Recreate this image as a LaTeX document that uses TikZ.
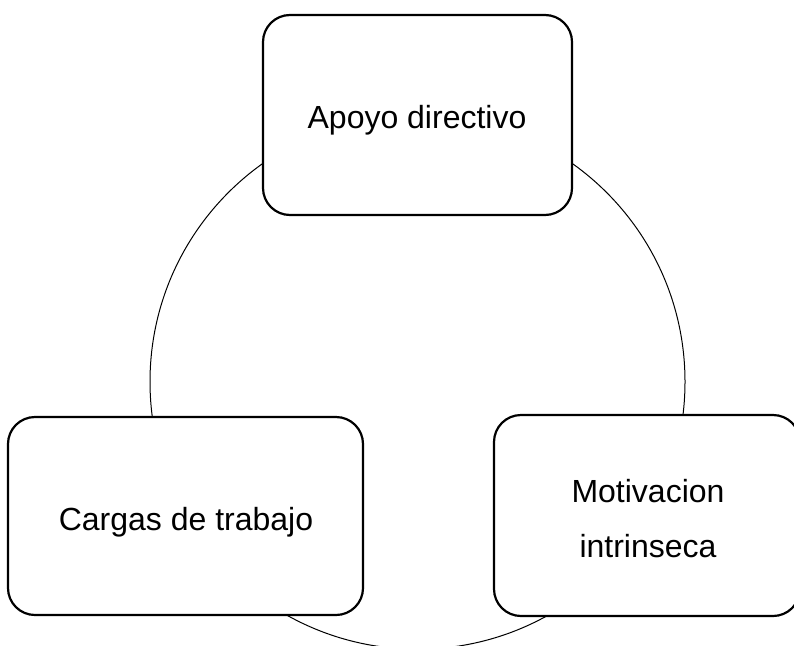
\documentclass[tikz,border=0pt]{standalone}
\usepackage{fontspec}
\setmainfont{Liberation Sans}
\begin{document}
\begin{tikzpicture}[x=1pt,y=-1pt,
  box/.style={draw=black, line width=2.2pt, fill=white, rounded corners=27pt, inner sep=0pt},
  lbl/.style={font=\fontsize{32}{38}\selectfont, text=black, inner sep=0pt, anchor=base},
  ring/.style={draw=black, line width=1pt}]
\useasboundingbox (0,0) rectangle (794,645);
\clip (0,0) rectangle (794,645);
\fill[white] (0,0) rectangle (794,645);
\coordinate (c) at (417.5,381.7);
\draw[ring] (c) circle[radius=267.5];
\node[box, minimum width=309pt, minimum height=200pt] (top) at (417.5,115) {};
\node[box, minimum width=355pt, minimum height=198pt] (left) at (185.5,516) {};
\node[box, minimum width=306pt, minimum height=201pt] (right) at (647,515.5) {};
\node[lbl] (tt) at (417,128) {Apoyo directivo};
\node[lbl] (lt) at (186,530) {Cargas de trabajo};
\node[lbl] (rt1) at (648,502) {Motivacion};
\node[lbl] (rt2) at (648,557) {intrinseca};
\end{tikzpicture}
\end{document}
